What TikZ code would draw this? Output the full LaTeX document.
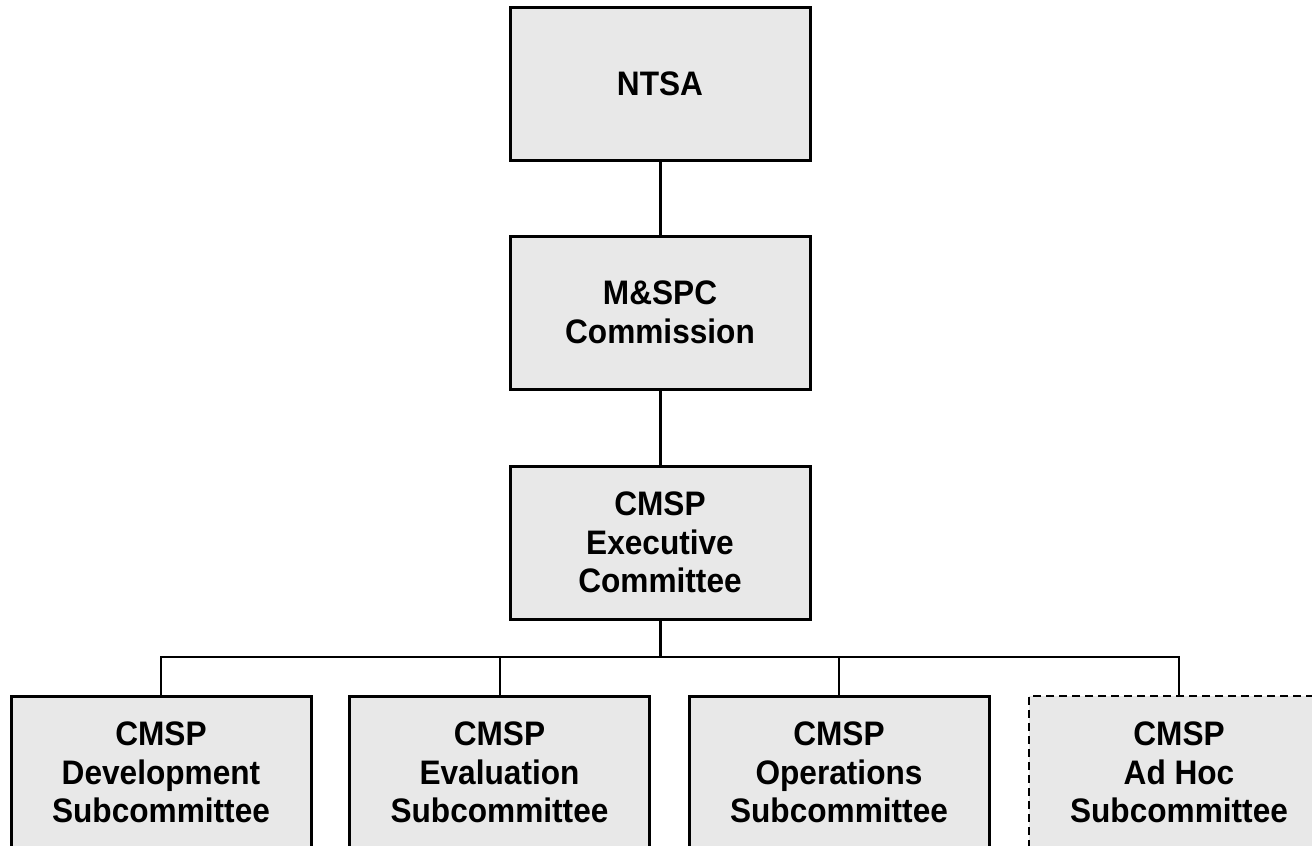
\documentclass[tikz,border=0pt]{standalone}
\usepackage{fontspec}
\setmainfont{Liberation Sans}[FakeStretch=0.93]
\definecolor{boxgray}{HTML}{E8E8E8}
\tikzset{
  unit/.style={draw, line width=3pt, fill=boxgray, minimum width=300pt,
    minimum height=153pt, inner sep=0pt, align=center,
    font=\fontsize{34}{38.5}\selectfont\bfseries},
  adhocunit/.style={unit, line width=2pt, dash pattern=on 8pt off 5pt},
  link/.style={line width=3pt},
  buslink/.style={line width=2pt}
}
\begin{document}
\begin{tikzpicture}[x=1pt,y=-1pt]
    \useasboundingbox (0,0) rectangle (1312,846);
    \node[unit](ntsa)   at (660,83.5)  {NTSA};
    \node[unit](mspc)   at (660,312.5) {M\&SPC\\Commission};
    \node[unit](exec)   at (660,542.5) {CMSP\\Executive\\Committee};
    \coordinate(bus)    at (660,657);

    \node[unit](dev)    at (161,772.5)   {CMSP\\Development\\Subcommittee};
    \node[unit](eval)   at (499.5,772.5) {CMSP\\Evaluation\\Subcommittee};
    \node[unit](ops)    at (839,772.5)   {CMSP\\Operations\\Subcommittee};
    \node[adhocunit](adhoc) at (1179,772.5) {CMSP\\Ad Hoc\\Subcommittee};

    \draw[link]    (ntsa)  to (mspc);
    \draw[link]    (mspc)  to (exec);
    \draw[link]    (exec)  to (bus);
    \draw[buslink] (dev.north) |- (bus) -| (adhoc.north);
    \draw[buslink] (eval.north) |- (bus);
    \draw[buslink] (ops.north)  |- (bus);
\end{tikzpicture}
\end{document}
